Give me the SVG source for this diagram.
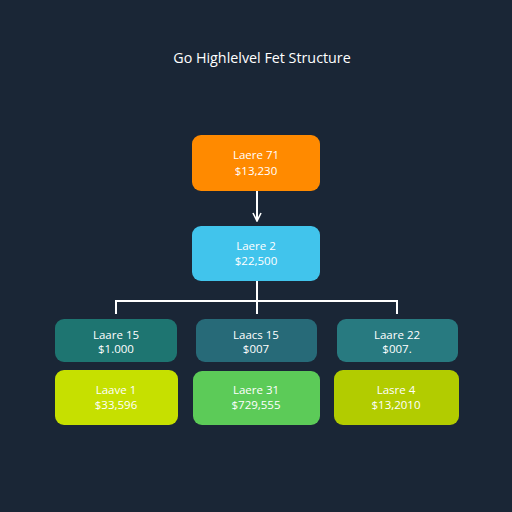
<svg xmlns="http://www.w3.org/2000/svg" width="512" height="512" viewBox="0 0 512 512">
<defs>
<style>
.t{font-family:"Open Sans","Liberation Sans",sans-serif;fill:#ffffff;font-size:11.5px;text-anchor:middle}
.title{font-family:"Open Sans","Liberation Sans",sans-serif;fill:#ffffff;font-size:14.3px;text-anchor:middle}
.c{stroke:#ffffff;stroke-width:2;fill:none}
</style>
<marker id="ah" viewBox="0 0 10 10" refX="9" refY="5" markerWidth="10" markerHeight="10" markerUnits="userSpaceOnUse" orient="auto">
<path d="M1,1 L9,5 L1,9" fill="none" stroke="#ffffff" stroke-width="1.6"/>
</marker>
</defs>
<rect width="512" height="512" fill="#1a2636"/>
<text class="title" x="262" y="63">Go Highlelvel Fet Structure</text>
<g id="connectors">
<line class="c" x1="257" y1="191" x2="257" y2="221" marker-end="url(#ah)"/>
<path class="c" d="M257,281 V301 M116,314 V301 H397 V314 M257,301 V314"/>
</g>
<g id="n1"><rect x="192" y="135" width="128" height="56" rx="9" fill="#ff8a00"/><text class="t" x="256" y="159">Laere 71</text><text class="t" x="256" y="175">$13,230</text></g>
<g id="n2"><rect x="192" y="226" width="128" height="55" rx="9" fill="#41c4ec"/><text class="t" x="256" y="250">Laere 2</text><text class="t" x="256" y="265">$22,500</text></g>
<g id="n3"><rect x="55" y="319" width="122" height="43" rx="9" fill="#1e7571"/><text class="t" x="116" y="339">Laare 15</text><text class="t" x="116" y="353">$1.000</text></g>
<g id="n4"><rect x="196" y="319" width="121" height="43" rx="9" fill="#276a78"/><text class="t" x="256" y="339">Laacs 15</text><text class="t" x="256" y="353">$007</text></g>
<g id="n5"><rect x="337" y="319" width="121" height="43" rx="9" fill="#287a80"/><text class="t" x="397" y="339">Laare 22</text><text class="t" x="397" y="353">$007.</text></g>
<g id="n6"><rect x="55" y="370" width="123" height="55" rx="9" fill="#c6e000"/><text class="t" x="116" y="394">Laave 1</text><text class="t" x="116" y="409">$33,596</text></g>
<g id="n7"><rect x="193" y="371" width="127" height="54" rx="9" fill="#5ccb58"/><text class="t" x="256" y="394">Laere 31</text><text class="t" x="256" y="409">$729,555</text></g>
<g id="n8"><rect x="334" y="370" width="125" height="55" rx="9" fill="#b2cc00"/><text class="t" x="396" y="394">Lasre 4</text><text class="t" x="396" y="409">$13,2010</text></g>
</svg>
